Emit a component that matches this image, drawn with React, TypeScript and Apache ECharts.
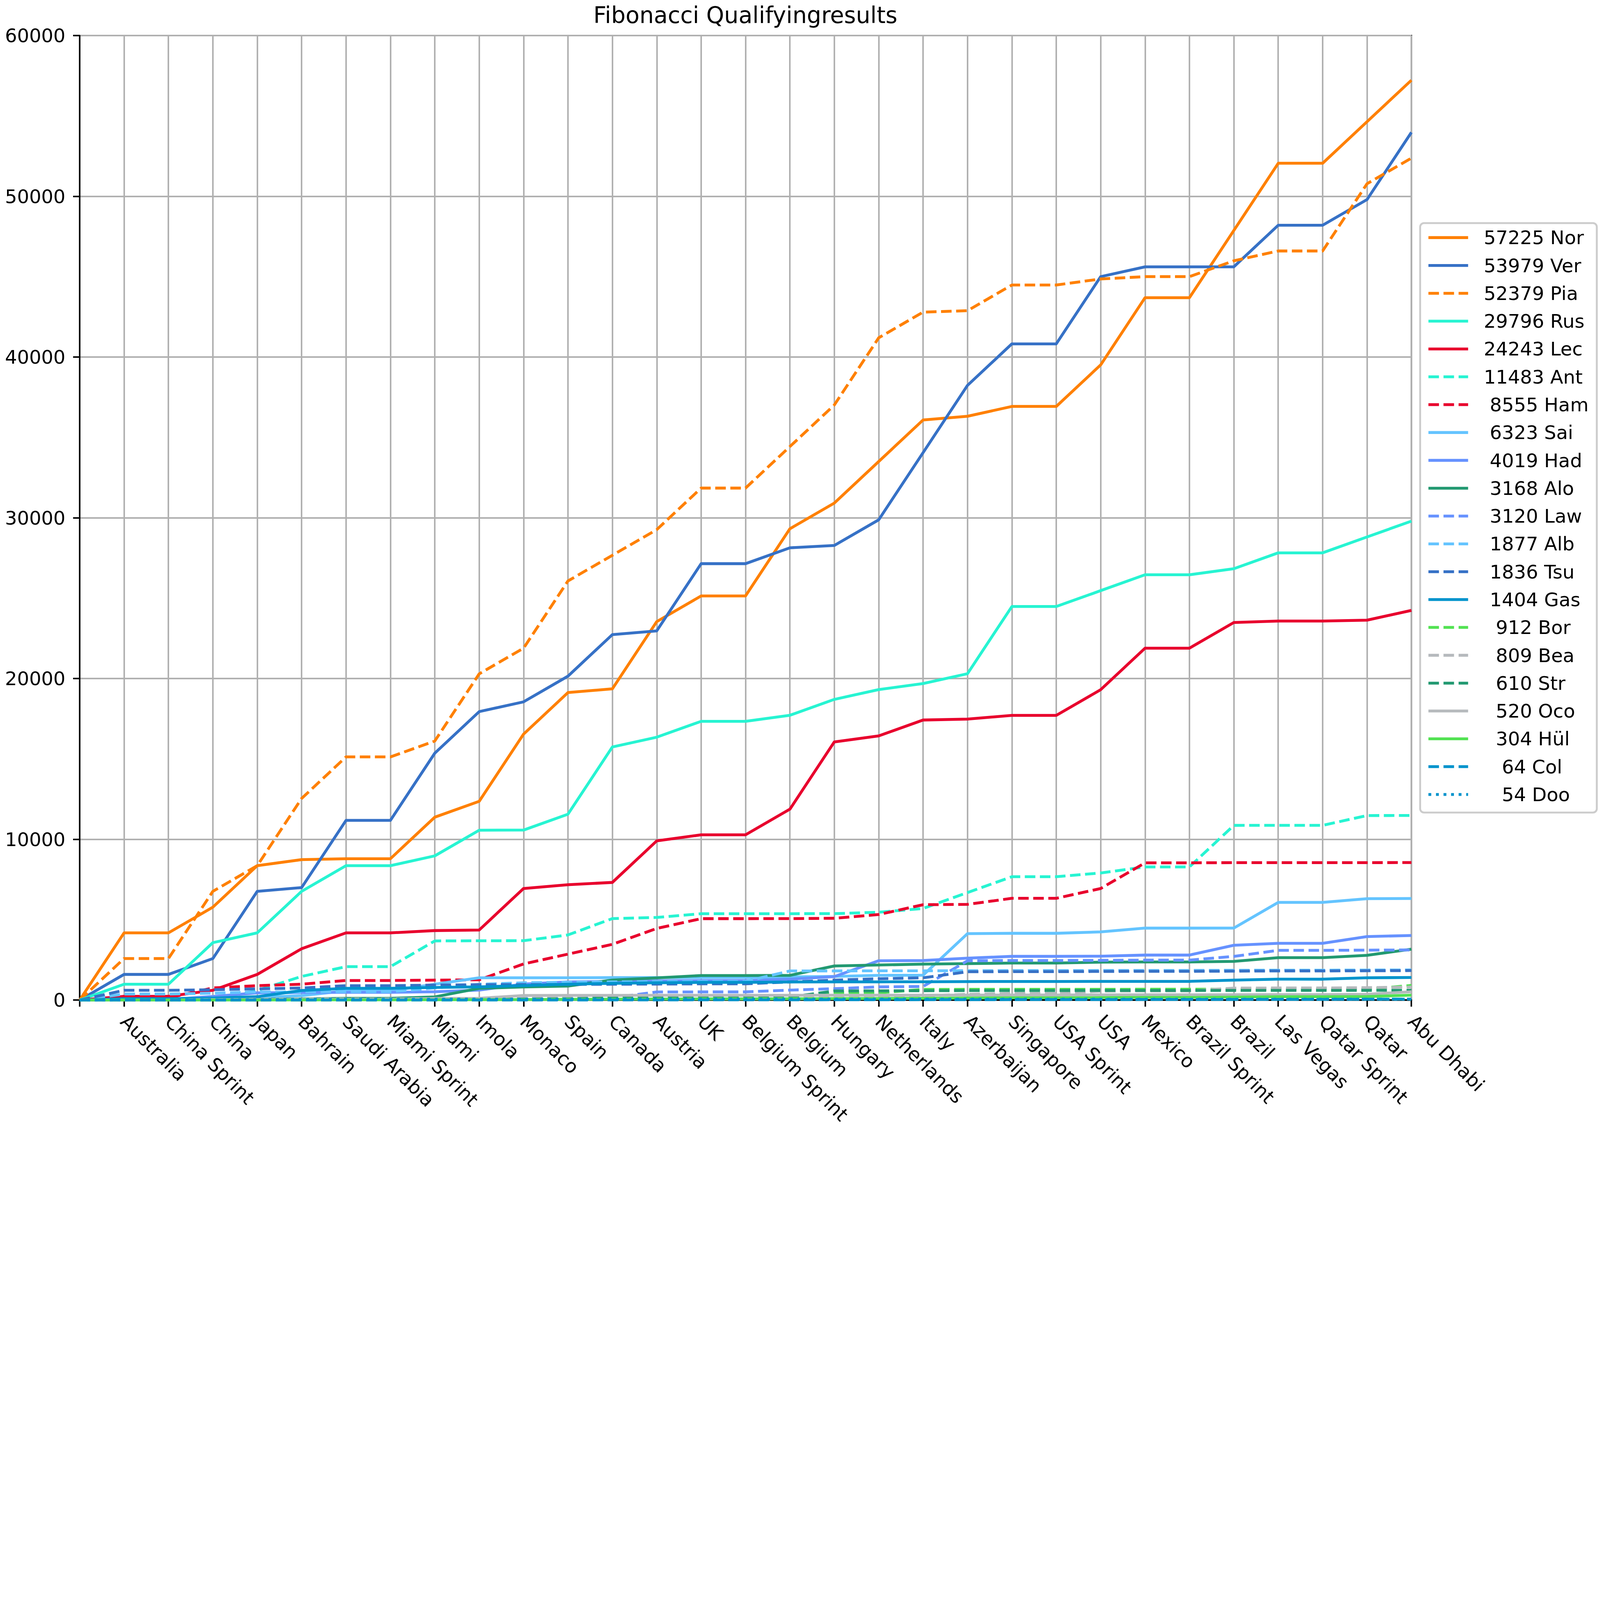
import React, { useEffect, useRef } from 'react';
import * as echarts from 'echarts';

const categories = ["", "Australia", "China Sprint", "China", "Japan", "Bahrain", "Saudi Arabia", "Miami Sprint", "Miami", "Imola", "Monaco", "Spain", "Canada", "Austria", "UK", "Belgium Sprint", "Belgium", "Hungary", "Netherlands", "Italy", "Azerbaijan", "Singapore", "USA Sprint", "USA", "Mexico", "Brazil Sprint", "Brazil", "Las Vegas", "Qatar Sprint", "Qatar", "Abu Dhabi"];

const yTicks = [0, 10000, 20000, 30000, 40000, 50000, 60000];

const nor = [0, 4181, 4181, 5778, 8362, 8739, 8794, 8794, 11378, 12365, 16546, 19130, 19363, 23544, 25141, 25141, 29322, 30919, 33503, 36087, 36320, 36930, 36930, 39514, 43695, 43695, 47876, 52057, 52057, 54641, 57225];
const ver = [0, 1597, 1597, 2584, 6765, 6998, 11179, 11179, 15360, 17944, 18554, 20151, 22735, 22968, 27149, 27149, 28136, 28280, 29877, 34058, 38239, 40823, 40823, 45004, 45614, 45614, 45617, 48201, 48201, 49798, 53979];
const pia = [0, 2584, 2584, 6765, 8362, 12543, 15127, 15127, 16114, 20295, 21892, 26073, 27670, 29267, 31851, 31851, 34435, 37019, 41200, 42797, 42886, 44483, 44483, 44860, 45004, 45004, 45991, 46601, 46601, 50782, 52379];
const rus = [0, 987, 987, 3571, 4181, 6765, 8362, 8362, 8972, 10569, 10577, 11564, 15745, 16355, 17342, 17342, 17719, 18706, 19316, 19693, 20303, 24484, 24484, 25471, 26458, 26458, 26835, 27822, 27822, 28809, 29796];
const lec = [0, 233, 233, 610, 1597, 3194, 4181, 4181, 4325, 4359, 6943, 7176, 7320, 9904, 10281, 10281, 11878, 16059, 16436, 17423, 17478, 17711, 17711, 19308, 21892, 21892, 23489, 23578, 23578, 23633, 24243];
const ant = [0, 3, 3, 45, 600, 1470, 2080, 2080, 3680, 3690, 3695, 4054, 5070, 5140, 5374, 5374, 5375, 5378, 5467, 5700, 6687, 7674, 7674, 7907, 8284, 8284, 10868, 10870, 10870, 11480, 11483];
const ham = [0, 144, 144, 754, 898, 987, 1220, 1220, 1241, 1262, 2249, 2859, 3469, 4456, 5066, 5066, 5069, 5090, 5323, 5933, 5954, 6331, 6331, 6941, 8538, 8538, 8551, 8551, 8551, 8552, 8555];
const sai = [0, 55, 55, 68, 165, 278, 579, 579, 988, 1386, 1386, 1390, 1397, 1400, 1410, 1410, 1443, 1471, 1539, 1549, 4133, 4155, 4155, 4244, 4477, 4477, 4480, 6077, 6077, 6310, 6323];
const had = [0, 34, 34, 230, 449, 470, 483, 483, 520, 620, 997, 1130, 1159, 1198, 1215, 1215, 1300, 1460, 2447, 2460, 2607, 2721, 2721, 2730, 2800, 2800, 3410, 3530, 3530, 3950, 4019];
const alo = [0, 21, 21, 42, 63, 76, 110, 110, 199, 733, 818, 873, 1250, 1383, 1527, 1527, 1540, 2124, 2181, 2236, 2270, 2304, 2304, 2359, 2372, 2372, 2406, 2639, 2639, 2783, 3168];
const law = [0, 1, 1, 1, 9, 22, 35, 35, 48, 69, 103, 125, 150, 505, 510, 510, 620, 710, 820, 846, 2443, 2464, 2464, 2472, 2485, 2485, 2718, 3095, 3095, 3107, 3120];
const alb = [0, 377, 377, 432, 505, 510, 521, 521, 754, 987, 1076, 1110, 1131, 1150, 1165, 1165, 1812, 1815, 1818, 1821, 1830, 1835, 1835, 1840, 1845, 1845, 1855, 1862, 1862, 1870, 1877];
const tsu = [0, 610, 610, 644, 699, 754, 898, 898, 932, 953, 966, 975, 985, 995, 1010, 1010, 1130, 1244, 1329, 1386, 1763, 1770, 1770, 1783, 1790, 1790, 1800, 1813, 1813, 1823, 1836];
const gas = [0, 89, 89, 123, 212, 599, 733, 733, 787, 821, 900, 990, 1040, 1080, 1100, 1100, 1125, 1130, 1135, 1140, 1150, 1159, 1159, 1162, 1165, 1165, 1244, 1300, 1300, 1390, 1404];
const bor = [0, 5, 5, 6, 7, 8, 9, 9, 11, 12, 13, 34, 47, 60, 72, 72, 216, 449, 452, 665, 668, 670, 670, 672, 674, 674, 676, 677, 677, 679, 912];
const bea = [0, 0, 0, 2, 57, 70, 78, 78, 91, 96, 99, 117, 125, 125, 214, 214, 218, 222, 235, 268, 357, 412, 412, 556, 569, 569, 746, 754, 754, 775, 809];
const str = [0, 13, 13, 16, 17, 30, 38, 38, 41, 54, 62, 75, 130, 143, 165, 165, 190, 567, 575, 583, 591, 594, 594, 596, 599, 599, 601, 604, 604, 607, 610];
const oco = [0, 1, 1, 35, 36, 49, 52, 52, 100, 110, 290, 293, 296, 298, 300, 300, 302, 304, 306, 308, 310, 315, 315, 325, 330, 330, 338, 345, 345, 363, 520];
const hul = [0, 2, 2, 5, 6, 11, 14, 14, 22, 27, 35, 48, 56, 64, 72, 72, 80, 93, 101, 114, 127, 140, 140, 153, 166, 166, 187, 208, 208, 221, 304];
const col = [0, 0, 0, 0, 0, 0, 0, 0, 0, 1, 2, 5, 7, 10, 13, 13, 16, 19, 22, 25, 28, 31, 31, 34, 37, 37, 42, 47, 47, 55, 64];
const doo = [0, 8, 8, 13, 26, 47, 50, 50, 54, 54, 54, 54, 54, 54, 54, 54, 54, 54, 54, 54, 54, 54, 54, 54, 54, 54, 54, 54, 54, 54, 54];

const seriesLabels = ["57225 Nor", "53979 Ver", "52379 Pia", "29796 Rus", "24243 Lec", "11483 Ant", " 8555 Ham", " 6323 Sai", " 4019 Had", " 3168 Alo", " 3120 Law", " 1877 Alb", " 1836 Tsu", " 1404 Gas", "  912 Bor", "  809 Bea", "  610 Str", "  520 Oco", "  304 Hül", "   64 Col", "   54 Doo"];
const seriesValues = [nor, ver, pia, rus, lec, ant, ham, sai, had, alo, law, alb, tsu, gas, bor, bea, str, oco, hul, col, doo];

const W = 5845;
const H = 4135;
const FONT = 'DejaVu Sans';

const styles: { color: string; dash: string }[] = [
  { color: '#FF8000', dash: 'solid' },
  { color: '#3671C6', dash: 'solid' },
  { color: '#FF8000', dash: 'dashed' },
  { color: '#27F4D2', dash: 'solid' },
  { color: '#E8002D', dash: 'solid' },
  { color: '#27F4D2', dash: 'dashed' },
  { color: '#E8002D', dash: 'dashed' },
  { color: '#64C4FF', dash: 'solid' },
  { color: '#6692FF', dash: 'solid' },
  { color: '#229971', dash: 'solid' },
  { color: '#6692FF', dash: 'dashed' },
  { color: '#64C4FF', dash: 'dashed' },
  { color: '#3671C6', dash: 'dashed' },
  { color: '#0093CC', dash: 'solid' },
  { color: '#52E252', dash: 'dashed' },
  { color: '#B6BABD', dash: 'dashed' },
  { color: '#229971', dash: 'dashed' },
  { color: '#B6BABD', dash: 'solid' },
  { color: '#52E252', dash: 'solid' },
  { color: '#0093CC', dash: 'dashed' },
  { color: '#0093CC', dash: 'dotted' },
];

function getScale() {
  if (typeof window === 'undefined') return 1;
  return Math.min(window.innerWidth / W, window.innerHeight / H);
}

export default function App() {
  const ref = useRef<HTMLDivElement>(null);
  const s = getScale();
  useEffect(() => {
    if (!ref.current) return;
    const p = (v: number) => v * s;
    const chart = echarts.init(ref.current, null, { renderer: 'svg' });
    const dashFor = (d: string): any => {
      if (d === 'dashed') return [p(38.5), p(16.6)];
      if (d === 'dotted') return [p(10.4), p(17.2)];
      return 'solid';
    };
    const series = seriesValues.map((vals, i) => ({
      name: seriesLabels[i],
      type: 'line',
      data: vals,
      symbol: 'none',
      showSymbol: false,
      silent: true,
      emphasis: { disabled: true },
      lineStyle: {
        color: styles[i].color,
        width: p(10.4),
        type: dashFor(styles[i].dash),
        cap: 'butt',
        join: 'round',
      },
      itemStyle: { color: styles[i].color },
    }));
    const legendData = seriesLabels.map((name, i) => ({
      name,
      itemStyle: { opacity: 0 },
      lineStyle: {
        color: styles[i].color,
        width: p(10.4),
        type: dashFor(styles[i].dash),
        cap: 'butt',
        opacity: 1,
      },
    }));
    const option: any = {
      animation: false,
      backgroundColor: '#ffffff',
      textStyle: { fontFamily: FONT, color: '#000' },
      title: {
        text: 'Fibonacci Qualifyingresults',
        left: p(2723),
        top: p(14),
        textAlign: 'center',
        padding: 0,
        textStyle: { fontFamily: FONT, fontSize: p(83), fontWeight: 'normal', color: '#000' },
      },
      grid: {
        left: p(291),
        right: p(W - 5156),
        top: p(130),
        bottom: p(H - 3653),
        show: true,
        borderColor: '#000',
        borderWidth: p(5.6),
        backgroundColor: 'transparent',
        containLabel: false,
      },
      legend: {
        orient: 'vertical',
        left: p(5188),
        top: p(815),
        padding: [p(18), p(30), p(31), p(25)],
        itemWidth: p(145),
        itemHeight: p(20),
        itemGap: p(31.8),
        selectedMode: false,
        backgroundColor: 'rgba(255,255,255,0.8)',
        borderColor: '#cccccc',
        borderWidth: p(6.9),
        borderRadius: p(14),
        itemStyle: { opacity: 0 },
        lineStyle: { width: p(10.4) },
        textStyle: { fontFamily: FONT, fontSize: p(69.4), color: '#000', lineHeight: p(67), padding: [0, 0, 0, p(50)] },
        data: legendData,
      },
      xAxis: {
        type: 'category',
        data: categories,
        boundaryGap: false,
        axisLine: { show: true, lineStyle: { color: '#000', width: p(5.6) } },
        axisTick: { show: true, interval: 0, length: p(24), lineStyle: { color: '#000', width: p(5.6) } },
        axisLabel: { interval: 0, rotate: -45, margin: p(66), fontFamily: FONT, fontSize: p(69.4), color: '#000' },
        splitLine: { show: true, interval: 0, lineStyle: { color: '#b0b0b0', width: p(5.6) } },
      },
      yAxis: {
        type: 'value',
        min: yTicks[0],
        max: yTicks[yTicks.length - 1],
        interval: 10000,
        axisLine: { show: true, lineStyle: { color: '#000', width: p(5.6) } },
        axisTick: { show: true, length: p(24), lineStyle: { color: '#000', width: p(5.6) } },
        axisLabel: { margin: p(52), fontFamily: FONT, fontSize: p(69.4), color: '#000', formatter: (v: number) => String(v) },
        splitLine: { show: true, lineStyle: { color: '#b0b0b0', width: p(5.6) } },
      },
      series,
    };
    chart.setOption(option);
    return () => chart.dispose();
  }, [s]);
  return <div ref={ref} style={{ position: 'absolute', left: 0, top: 0, width: W * s, height: H * s, background: '#fff' }} />;
}
